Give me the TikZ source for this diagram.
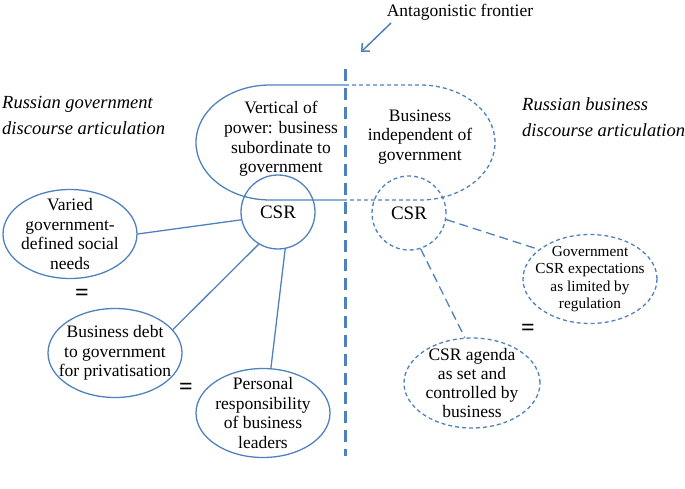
\documentclass[tikz,border=0pt]{standalone}
\usepackage{fontspec}
\setmainfont{Liberation Serif}
\usetikzlibrary{shapes.geometric,arrows.meta}
\definecolor{ob}{HTML}{4F81BD}
\begin{document}
\begin{tikzpicture}[x=1pt,y=-1pt,
  solidell/.style={ellipse, draw=ob, line width=1.3pt, minimum width=134pt, minimum height=89pt, inner xsep=-30pt, inner ysep=-15pt, align=center, font=\fontsize{17.5}{19.5}\selectfont},
  dashell/.style={solidell, dash pattern=on 4pt off 3pt},
  csrc/.style={circle, draw=ob, line width=1.3pt, minimum size=74pt, inner sep=0pt, font=\fontsize{19}{22}\selectfont},
  link/.style={draw=ob, line width=1.3pt},
  dlink/.style={link, dash pattern=on 9pt off 5pt},
  dshape/.style={link, dash pattern=on 4pt off 3pt},
  eqs/.style={inner sep=0pt, font=\bfseries\fontsize{24}{24}\selectfont},
  head/.style={anchor=west, align=left, inner sep=0pt, font=\itshape\fontsize{18.5}{26}\selectfont},
  shapetext/.style={align=center, inner sep=0pt, font=\fontsize{17.5}{19.7}\selectfont}
]
\useasboundingbox (0,0) rectangle (685,489);

% headings
\node[head] (hl) at (2,115) {Russian government\\discourse articulation};
\node[head] (hr) at (522,117) {Russian business\\discourse articulation};

% frontier label and arrow
\node[inner sep=0pt, font=\fontsize{17.5}{20}\selectfont] (front) at (460,12) {Antagonistic frontier};
\coordinate (atail) at (391,23);
\coordinate (atip) at (361,52);
\draw[ob, line width=1.5pt, -{Straight Barb[length=6pt,width=11pt]}] (atail) -- (atip);

% top shapes
\draw[link] (345,85) -- (270,85) arc[start angle=-90, end angle=-270, x radius=74, y radius=57.5] -- (345,200);
\draw[dshape] (345,85) -- (420,85) arc[start angle=-90, end angle=90, x radius=75, y radius=57.5] -- (345,200);
\node[shapetext] (vert) at (281,139) {Vertical of\\power: business\\subordinate to\\government};
\node[shapetext] (indep) at (420,137) {Business\\independent of\\government};

% divider
\coordinate (dtop) at (345,69);
\coordinate (dbot) at (345,456);
\draw[ob, line width=3pt, dash pattern=on 12pt off 7pt] (dtop) -- (dbot);

% left side
\node[csrc] (csrL) at (278,212) {CSR};
\node[solidell] (varied) at (70,234) {Varied\\government-\\defined social\\needs};
\node[solidell] (debt) at (115,353) {Business debt\\to government\\for privatisation};
\node[solidell] (pers) at (263,413) {Personal\\responsibility\\of business\\leaders};
\node[eqs] (eq1) at (82,295) {=};
\node[eqs] (eq2) at (186,389) {=};
\draw[link] (varied.east) -- (csrL.192);
\draw[link] (csrL.239) -- (debt.22);
\draw[link] (csrL.281) -- (pers.80);

% right side
\node[csrc, dash pattern=on 4pt off 3pt] (csrR) at (409,213) {CSR};
\node[dashell, font=\fontsize{15.3}{17.3}\selectfont] (gov) at (590,279) {Government\\CSR expectations\\as limited by\\regulation};
\node[dashell, font=\fontsize{17.5}{19.3}\selectfont, minimum width=136pt, minimum height=90pt] (agenda) at (472,383) {CSR agenda\\as set and\\controlled by\\business};
\node[eqs] (eq3) at (528,330) {=};
\draw[dlink] (csrR.350) -- (gov.150);
\draw[dlink] (csrR.288) -- (agenda.99);
\end{tikzpicture}
\end{document}
